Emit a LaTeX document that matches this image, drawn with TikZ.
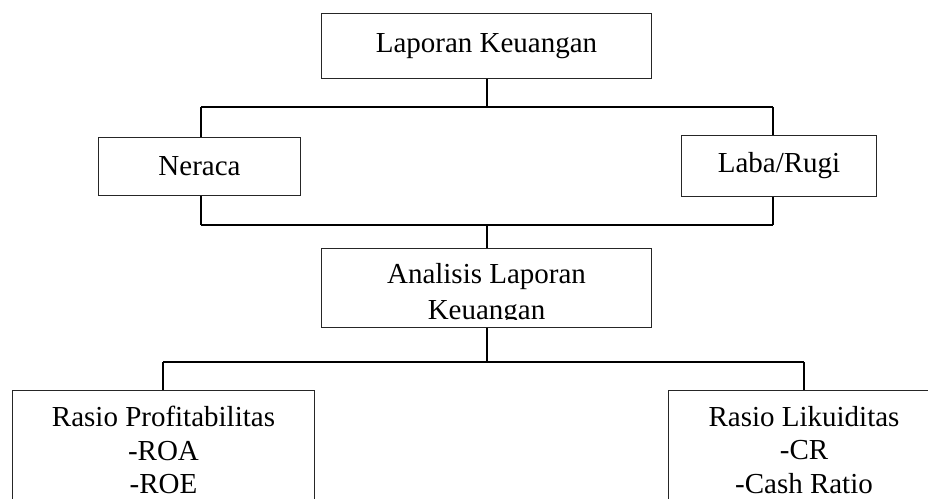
\documentclass[tikz,border=0pt]{standalone}
\usepackage{fontspec}
\setmainfont{Liberation Serif}
\usepackage{tikz}

\begin{document}
\begin{tikzpicture}[x=0.02cm, y=-0.02cm,
  kotak/.style={draw=black!85, line width=0.02cm, inner sep=0pt},
  teks/.style={font=\fontsize{16.5}{20}\selectfont, align=center},
  garis/.style={black, line width=0.04cm}]
\clip (0,0) rectangle (928,499);

\node[kotak, teks, minimum width=6.62cm, minimum height=1.30cm] (lk) at (486.5,46.5) {Laporan Keuangan};
\node[kotak, teks, minimum width=4.06cm, minimum height=1.18cm] (ner) at (199.5,166.5) {Neraca};
\node[kotak, teks, minimum width=3.92cm, minimum height=1.24cm] (lr) at (779,166) {Laba/Rugi};
\node[kotak, minimum width=6.62cm, minimum height=1.60cm] (alk) at (486.5,288) {};
\begin{scope}
\clip (alk.north west) rectangle (alk.east |- 0,319.5);
\node[teks, font=\fontsize{16.5}{20.5}\selectfont] (alkteks) at (486.5,295) {Analisis Laporan\\Keuangan};
\end{scope}
\node[kotak, teks, font=\fontsize{16.5}{19}\selectfont, minimum width=6.06cm, minimum height=2.40cm] (rp) at (163.5,450) {Rasio Profitabilitas\\-ROA\\-ROE};
\node[kotak, teks, font=\fontsize{16.5}{19}\selectfont, minimum width=5.44cm, minimum height=2.40cm] (rl) at (804,450) {Rasio Likuiditas\\-CR\\-Cash Ratio};

\coordinate (atasK) at (201,107);
\coordinate (atasN) at (773,107);
\coordinate (tengahK) at (201,225);
\coordinate (tengahN) at (773,225);
\coordinate (bawahK) at (163,362);
\coordinate (bawahN) at (804,362);

\draw[garis] (lk.south) -- (lk.south |- atasK);
\draw[garis] (atasK) -- (atasN);
\draw[garis] (atasK) -- (atasK |- ner.north);
\draw[garis] (atasN) -- (atasN |- lr.north);
\draw[garis] (tengahK |- ner.south) -- (tengahK);
\draw[garis] (tengahN |- lr.south) -- (tengahN);
\draw[garis] (tengahK) -- (tengahN);
\draw[garis] (alk.north |- tengahK) -- (alk.north);
\draw[garis] (alk.south) -- (alk.south |- bawahK);
\draw[garis] (bawahK) -- (bawahN);
\draw[garis] (bawahK) -- (bawahK |- rp.north);
\draw[garis] (bawahN) -- (bawahN |- rl.north);
\end{tikzpicture}
\end{document}
